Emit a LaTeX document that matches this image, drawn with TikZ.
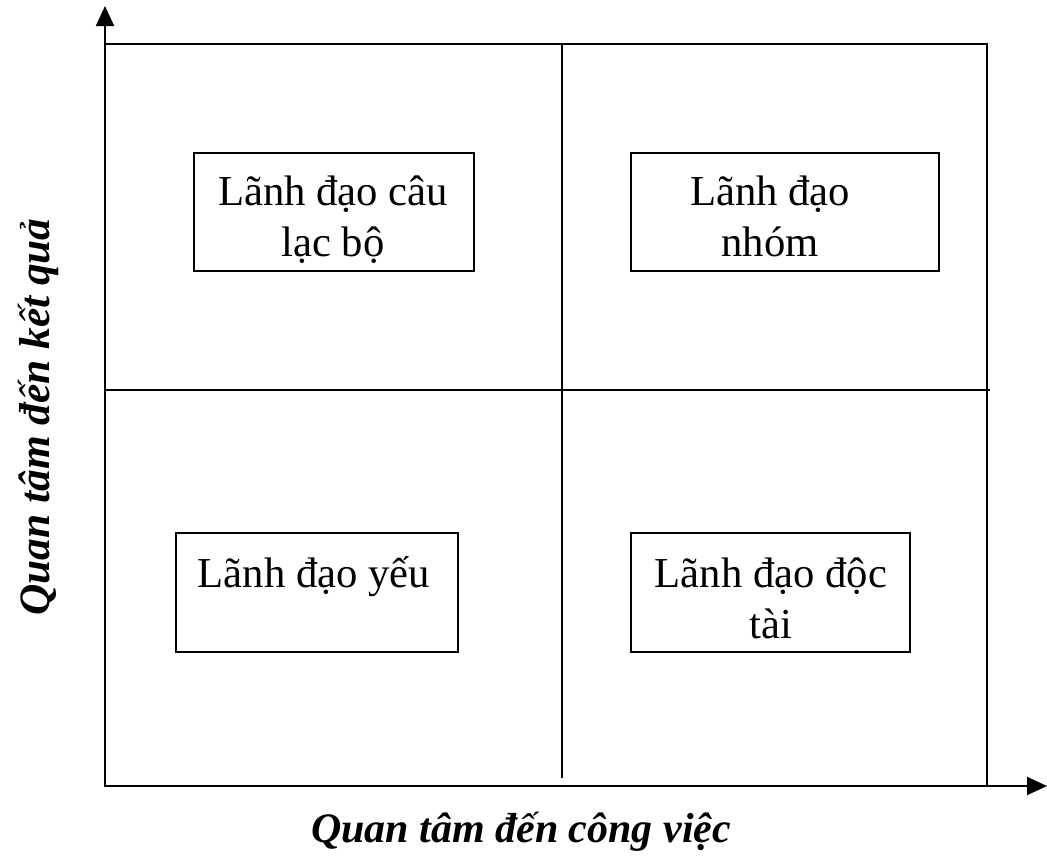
\documentclass[tikz,border=0pt]{standalone}
\usepackage{fontspec}
\setmainfont{Liberation Serif}
\usetikzlibrary{arrows.meta}
\begin{document}
\begin{tikzpicture}[x=0.75pt,y=-0.75pt,
  gridline/.style={line width=1.2pt},
  axisline/.style={line width=1.4pt,-{Triangle[length=15pt,width=13.5pt]}},
  stylebox/.style={draw,line width=1.2pt,inner sep=0pt},
  boxtext/.style={anchor=base,inner sep=0pt,text width=240pt,align=flush center,
    font=\fontsize{32}{38.25}\selectfont},
  axislabel/.style={anchor=base,font=\bfseries\itshape}]
\useasboundingbox (0,0) rectangle (1047,858);

% axes
\coordinate (yfoot) at (105,787);
\coordinate (ytip) at (105,6);
\coordinate (xfoot) at (104,786);
\coordinate (xtip) at (1047,786);
\draw[axisline] (yfoot) -- (ytip);
\draw[axisline] (xfoot) -- (xtip);

% quadrant frame
\coordinate (tl) at (105,44);
\coordinate (tr) at (988,44);
\coordinate (rt) at (987,44);
\coordinate (rb) at (987,786);
\coordinate (ml) at (105,390);
\coordinate (mr) at (990,390);
\coordinate (mt) at (562,44);
\coordinate (mb) at (562,778);
\draw[gridline] (tl) -- (tr);
\draw[gridline] (rt) -- (rb);
\draw[gridline] (ml) -- (mr);
\draw[gridline] (mt) -- (mb);

% leadership style boxes
\node[stylebox,minimum width=280*0.75pt,minimum height=118*0.75pt] (clubbox) at (334,212) {};
\node[stylebox,minimum width=308*0.75pt,minimum height=118*0.75pt] (teambox) at (785,212) {};
\node[stylebox,minimum width=282*0.75pt,minimum height=119*0.75pt] (weakbox) at (317,592.5) {};
\node[stylebox,minimum width=279*0.75pt,minimum height=119*0.75pt] (autobox) at (770.5,592.5) {};

\node[boxtext] (club) at (333,205) {Lãnh đạo câu\\lạc bộ};
\node[boxtext] (team) at (770,205) {Lãnh đạo\\nhóm};
\node[boxtext] (weak) at (314,587) {Lãnh đạo yếu};
\node[boxtext] (auto) at (771,587) {Lãnh đạo độc\\tài};

% axis titles
\node[axislabel,font=\fontsize{31.5}{36}\selectfont\bfseries\itshape] (xlab) at (521,842)
  {Quan tâm đến công việc};
\node[axislabel,font=\fontsize{32.5}{36}\selectfont\bfseries\itshape,rotate=90] (ylab) at (50,417)
  {Quan tâm đến kết quả};
\end{tikzpicture}
\end{document}
